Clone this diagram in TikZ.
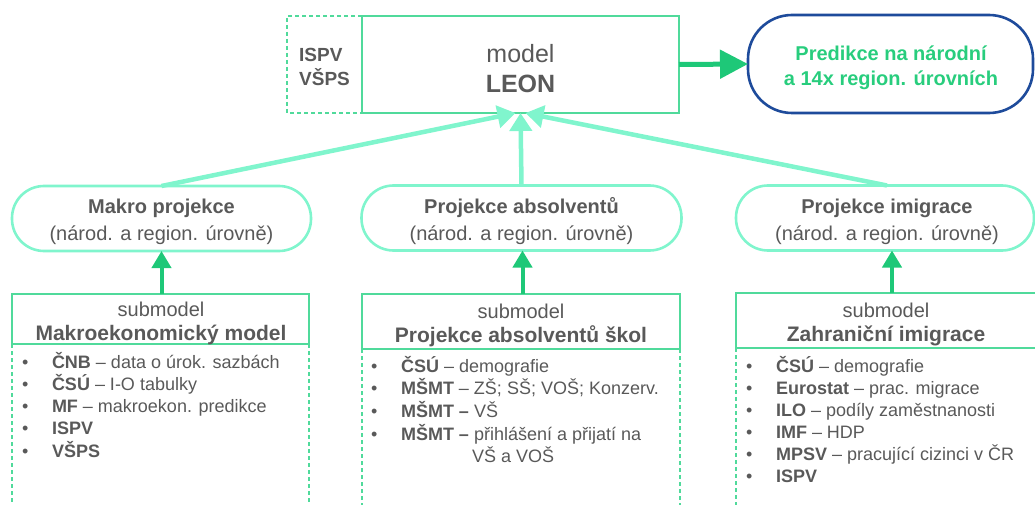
\documentclass[tikz,border=0pt]{standalone}
\usepackage{fontspec}
\setmainfont{Liberation Sans}
\usetikzlibrary{arrows.meta}
\definecolor{txt}{RGB}{89,89,89}
\definecolor{mint}{RGB}{80,218,155}
\definecolor{aqua}{RGB}{128,245,205}
\definecolor{dgreen}{RGB}{30,200,120}
\definecolor{navy}{RGB}{30,75,155}
\definecolor{gtxt}{RGB}{40,205,125}
\newcommand{\bul}{\makebox[30pt][l]{\textbullet}}
\begin{document}
\begin{tikzpicture}[x=1pt,y=-1pt,
  every node/.style={inner sep=0pt, outer sep=0pt, text=txt},
  leonbox/.style={draw=mint, line width=1.6pt, minimum width=317pt, minimum height=97pt},
  ispbox/.style={minimum width=75pt, minimum height=97pt},
  isptext/.style={align=left, font=\fontsize{19}{24}\selectfont\bfseries},
  predbox/.style={draw=navy, line width=2.6pt, rounded corners=44pt, minimum width=285pt, minimum height=98pt},
  predtext/.style={align=center, text=gtxt, font=\fontsize{20}{25}\selectfont\bfseries},
  pill/.style={draw=aqua, line width=2.6pt, rounded corners=32pt, minimum height=65pt},
  pilltext/.style={align=center, font=\fontsize{20}{27}\selectfont},
  subbox/.style={draw=mint, line width=1.8pt},
  subtext/.style={align=center, font=\fontsize{20}{24}\selectfont},
  listnode/.style={anchor=base west, font=\fontsize{18}{22}\selectfont},
  dashline/.style={draw=mint, line width=1.5pt, dash pattern=on 4pt off 3pt},
  feed/.style={draw=aqua, line width=4.5pt, -{Triangle[length=18pt,width=22pt]}},
  upar/.style={draw=dgreen, line width=4pt, -{Triangle[length=17pt,width=19pt]}},
  outar/.style={draw=dgreen, line width=5pt, -{Triangle[length=28pt,width=28pt]}}
]
\useasboundingbox (0,0) rectangle (1035,505);

% top row
\node[leonbox] (leon) at (520.5,64.5) {};
\node[align=center, font=\fontsize{25}{30}\selectfont] (leont) at (520.5,69) {model\\\textbf{LEON}};
\node[ispbox] (isp) at (324.5,64.5) {};
\node[isptext] (ispt) at (324.5,66.5) {ISPV\\VŠPS};
\draw[dashline] (isp.north east) -- (isp.north west) -- (isp.south west) -- (isp.south east);
\node[predbox] (pred) at (890.5,64) {};
\node[predtext] (predt) at (891,67.5) {Predikce na národní\\a 14x region. úrovních};
\draw[outar] (leon.east) -- (pred.west);

% pills
\node[pill, minimum width=299pt] (p1) at (161.5,218.5) {};
\node[pill, minimum width=320pt] (p2) at (521.5,218) {};
\node[pill, minimum width=298pt] (p3) at (885,218) {};
\node[pilltext] (p1t) at (161.5,221.5) {\textbf{Makro projekce}\\(národ. a region. úrovně)};
\node[pilltext] (p2t) at (521.5,221.5) {\textbf{Projekce absolventů}\\(národ. a region. úrovně)};
\node[pilltext] (p3t) at (887,221.5) {\textbf{Projekce imigrace}\\(národ. a region. úrovně)};

\draw[feed] (p1.north) -- ([xshift=-5pt]leon.south);
\draw[feed] (p2.north) -- (leon.south);
\draw[feed] ([xshift=2pt]p3.north) -- ([xshift=5pt]leon.south);

% submodel boxes
\node[subbox, minimum width=297pt, minimum height=50pt] (s1) at (160.5,319) {};
\node[subbox, minimum width=318pt, minimum height=55pt] (s2) at (521,321.5) {};
\node[minimum width=310pt, minimum height=55pt] (s3) at (891,320.5) {};
\draw[draw=mint, line width=1.8pt] (s3.north east) -- (s3.north west) -- (s3.south west) -- (s3.south east);
\node[subtext] (s1t) at (161,323) {submodel\\\fontsize{21}{24}\selectfont\textbf{Makroekonomický model}};
\node[subtext] (s2t) at (521,325) {submodel\\\fontsize{21}{24}\selectfont\textbf{Projekce absolventů škol}};
\node[subtext] (s3t) at (886,324.5) {submodel\\\fontsize{21}{24}\selectfont\textbf{Zahraniční imigrace}};

\draw[upar] (p1.south |- s1.north) -- (p1.south);
\draw[upar] ([xshift=1pt]p2.south |- s2.north) -- ([xshift=1pt]p2.south);
\draw[upar] ([xshift=7pt]p3.south |- s3.north) -- ([xshift=7pt]p3.south);

% dashed sides
\draw[dashline] (s1.south west) -- ++(0,165);
\draw[dashline] (s1.south east) -- ++(0,165);
\draw[dashline] (s2.south west) -- ++(0,160);
\draw[dashline] (s2.south east) -- ++(0,160);
\draw[dashline] (s3.south west) -- ++(0,160);

% lists
\node[listnode] (l1) at (22,368) {\begin{tabular}[t]{@{}l@{}}
\bul\textbf{ČNB} – data o úrok. sazbách\\
\bul\textbf{ČSÚ} – I-O tabulky\\
\bul\textbf{MF} – makroekon. predikce\\
\bul\textbf{ISPV}\\
\bul\textbf{VŠPS}
\end{tabular}};
\node[listnode] (l2) at (371,372) {\begin{tabular}[t]{@{}l@{}}
\bul\textbf{ČSÚ} – demografie\\
\bul\textbf{MŠMT} – ZŠ; SŠ; VOŠ; Konzerv.\\
\bul\textbf{MŠMT –} VŠ\\
\bul\textbf{MŠMT –} přihlášení a přijatí na\\
\hspace*{101pt}VŠ a VOŠ
\end{tabular}};
\node[listnode] (l3) at (746,372) {\begin{tabular}[t]{@{}l@{}}
\bul\textbf{ČSÚ} – demografie\\
\bul\textbf{Eurostat} – prac. migrace\\
\bul\textbf{ILO} – podíly zaměstnanosti\\
\bul\textbf{IMF} – HDP\\
\bul\textbf{MPSV} – pracující cizinci v ČR\\
\bul\textbf{ISPV}
\end{tabular}};
\end{tikzpicture}
\end{document}
